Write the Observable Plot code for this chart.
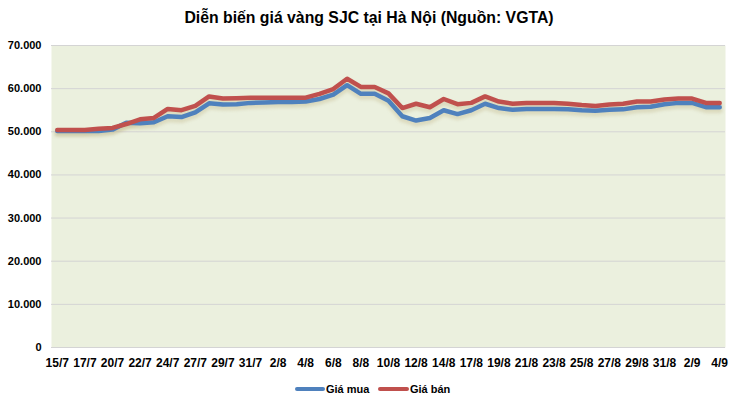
<!DOCTYPE html>
<html>
<head>
<meta charset="utf-8">
<script src="https://cdn.jsdelivr.net/npm/d3@7"></script>
<script src="https://cdn.jsdelivr.net/npm/@observablehq/plot@0.6"></script>
<style>
  body { margin: 0; background: #fff; width: 738px; height: 404px; position: relative; overflow: hidden; font-family: "Liberation Sans", Arial, sans-serif; }
  #title { position: absolute; top: 7px; left: 0; width: 738px; text-align: center; font-weight: bold; font-size: 15.8px; color: #000; line-height: 22px; }
  #chart { position: absolute; top: 37px; left: 0; }
  #legend { position: absolute; top: 381px; left: 0; width: 738px; height: 16px; font-size: 11px; font-weight: bold; color: #000; }
  .sw { position: absolute; top: 6px; height: 4px; border-radius: 2px; }
  .lb { position: absolute; top: 1px; line-height: 14px; }
</style>
</head>
<body>
<div id="title">Diễn biến giá vàng SJC tại Hà Nội (Nguồn: VGTA)</div>
<div id="chart"></div>
<div id="legend">
  <div class="sw" style="left:295px;width:30px;background:#4F81BD"></div><div class="lb" style="left:326px">Giá mua</div>
  <div class="sw" style="left:378px;width:31px;background:#C0504D"></div><div class="lb" style="left:410px">Giá bán</div>
</div>
<script>
const dates = ["15/7","16/7","17/7","18/7","20/7","21/7","22/7","23/7","24/7","25/7","27/7","28/7","29/7","30/7","31/7",
  "1/8","2/8","3/8","4/8","5/8","6/8","7/8","8/8","9/8","10/8","11/8","12/8","13/8","14/8","15/8",
  "17/8","18/8","19/8","20/8","21/8","22/8","23/8","24/8","25/8","26/8","27/8","28/8","29/8","30/8","31/8",
  "1/9","2/9","3/9","4/9"];
const giaMua = [50.2,50.2,50.2,50.2,50.5, 52.1,52.0,52.2,53.6,53.4, 54.5,56.6,56.3,56.4,56.7,
  56.8,56.9,56.9,57.0,57.6, 58.6,60.8,58.8,58.8,57.2, 53.6,52.6,53.2,55.0,54.1,
  55.0,56.5,55.5,55.1,55.3, 55.3,55.3,55.2,55.0,54.9, 55.1,55.2,55.7,55.8,56.4,
  56.7,56.7,55.7,55.7];
const giaBan = [50.4,50.4,50.4,50.7,50.9, 51.8,52.9,53.2,55.3,55.0, 56.0,58.2,57.7,57.8,57.9,
  57.9,57.9,57.9,57.9,58.8, 59.9,62.3,60.4,60.4,58.9, 55.5,56.5,55.7,57.6,56.4,
  56.7,58.2,57.0,56.5,56.7, 56.7,56.7,56.5,56.2,56.0, 56.3,56.5,57.0,57.0,57.5,
  57.7,57.7,56.7,56.7];
const yTicks = [0,10000,20000,30000,40000,50000,60000,70000];
const xTickLabels = dates.filter((d, i) => i % 2 === 0);

const seriesNames = ["Giá mua", "Giá bán"];
const seriesColors = ["#4F81BD", "#C0504D"];
const rows = [];
[giaMua, giaBan].forEach((arr, s) => arr.forEach((v, i) => rows.push({date: dates[i], value: v * 1000, series: seriesNames[s]})));

const loc = d3.formatLocale({decimal: ",", thousands: ".", grouping: [3], currency: ["", ""]});
const fmt = loc.format(",");

const chart = Plot.plot({
  width: 738,
  height: 338,
  marginTop: 8,
  marginBottom: 28,
  marginLeft: 51,
  marginRight: 13,
  style: {fontFamily: "Liberation Sans, Arial, sans-serif", background: "transparent", overflow: "visible"},
  x: {type: "point", domain: dates, padding: 0.42, label: null},
  y: {domain: [0, 70000], label: null},
  color: {domain: seriesNames, range: seriesColors},
  marks: [
    Plot.frame({fill: "#ebf0de", stroke: null}),
    Plot.gridY(yTicks, {stroke: "#d4d4d4", strokeOpacity: 1, strokeWidth: 1}),
    Plot.line(rows, {x: "date", y: "value", z: "series", stroke: "#bfb486", strokeOpacity: 0.35, strokeWidth: 6, dy: 3, strokeLinejoin: "round", imageFilter: "blur(1.5px)"}),
    Plot.line(rows, {x: "date", y: "value", z: "series", stroke: "series", strokeWidth: 4.5, strokeLinejoin: "round", strokeLinecap: "round"}),
    Plot.axisY(yTicks, {tickSize: 0, tickPadding: 10, tickFormat: fmt, fontSize: 11, fontWeight: "bold", fill: "#000", label: null}),
    Plot.axisX(xTickLabels, {tickSize: 0, tickPadding: 11, fontSize: 12, fontWeight: "bold", fill: "#000", label: null})
  ]
});
document.getElementById("chart").appendChild(chart);
</script>
</body>
</html>
